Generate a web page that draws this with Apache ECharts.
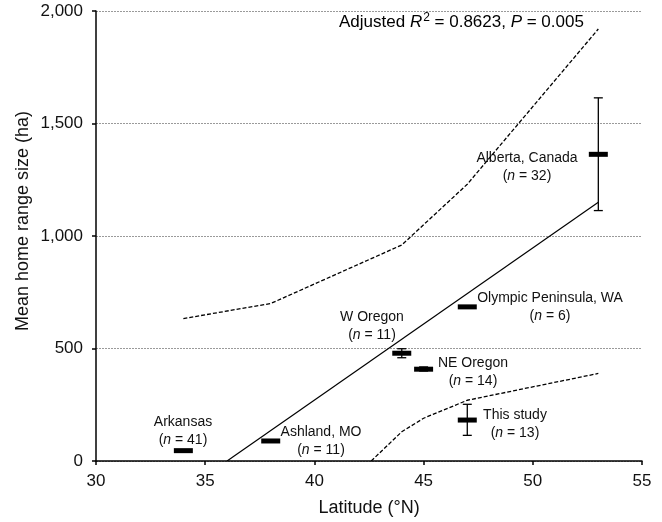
<!DOCTYPE html>
<html>
<head>
<meta charset="utf-8">
<script src="https://cdn.jsdelivr.net/npm/echarts@6/dist/echarts.min.js"></script>
<style>
  html, body { margin: 0; padding: 0; background: #fff; }
  #myChart { width: 662px; height: 522px; }
</style>
</head>
<body>
<div id="myChart"></div>
<script>
// study sites: latitude, mean home range, SE bounds
var siteNames = ['Arkansas', 'Ashland, MO', 'W Oregon', 'NE Oregon', 'This study', 'Olympic Peninsula, WA', 'Alberta, Canada'];
var siteN = [41, 11, 11, 14, 13, 6, 32];
var siteLat = [34, 38, 44, 45, 47, 47, 53];
var siteMean = [46, 89, 479, 408, 182, 685, 1363];
var siteLow = [46, 89, 459, 400, 114, 685, 1113];
var siteHigh = [46, 89, 499, 418, 252, 685, 1614];

// regression fit and confidence limits
var fitLat = [36, 53];
var fitVal = [0, 1150];
var upperLat = [34, 38, 44, 45, 47, 53];
var upperVal = [633, 700, 960, 1050, 1230, 1920];
var lowerLat = [42.6, 44, 45, 47, 53];
var lowerVal = [0, 130, 190, 270, 389];

var xTicks = [30, 35, 40, 45, 50, 55];
var yTicks = [0, 500, 1000, 1500, 2000];

function pairs(xs, ys) {
    return xs.map(function (x, i) { return [x, ys[i]]; });
}

var siteData = siteLat.map(function (lat, i) {
    return [lat, siteMean[i], siteLow[i], siteHigh[i]];
});

var chart = echarts.init(document.getElementById('myChart'));

var font = 'Liberation Sans, Arial';
function nLabel(name, n, x, y) {
    return {
        type: 'text', x: x, y: y,
        style: {
            text: name + '\n{p|(}{i|n}{p| = ' + n + ')}',
            fontFamily: font, fontSize: 14, fill: '#111',
            align: 'center', lineHeight: 18,
            rich: {
                p: { fontFamily: font, fontSize: 14, fill: '#111' },
                i: { fontFamily: font, fontSize: 14, fontStyle: 'italic', fill: '#111' }
            }
        }
    };
}

chart.setOption({
    animation: false,
    grid: { left: 96, right: 20, top: 11, bottom: 60 },
    xAxis: {
        type: 'value', min: 30, max: 55, interval: 5,
        name: 'Latitude (°N)', nameLocation: 'middle', nameGap: 38,
        nameTextStyle: { fontFamily: font, fontSize: 18, color: '#111' },
        axisLine: { lineStyle: { color: '#000', width: 1.5 } },
        axisTick: { show: true, length: 4, lineStyle: { color: '#000', width: 1.5 } },
        axisLabel: {
            margin: 12, fontFamily: font, fontSize: 17, color: '#111',
            customValues: xTicks
        },
        splitLine: { show: false }
    },
    yAxis: {
        type: 'value', min: 0, max: 2000, interval: 500,
        axisLine: { show: true, lineStyle: { color: '#000', width: 1.5 } },
        axisTick: { show: true, length: 4, lineStyle: { color: '#000', width: 1.5 } },
        axisLabel: {
            margin: 13, fontFamily: font, fontSize: 17, color: '#111',
            formatter: function (v) { return v.toLocaleString('en-US'); }
        },
        splitLine: { show: true, lineStyle: { color: '#9a9a9a', width: 1.2, type: [2, 1] } }
    },
    series: [
        {
            type: 'line', data: pairs(fitLat, fitVal), symbol: 'none',
            lineStyle: { color: '#000', width: 1.2 }
        },
        {
            type: 'line', data: pairs(upperLat, upperVal), symbol: 'none',
            lineStyle: { color: '#000', width: 1.3, type: [4, 2] }
        },
        {
            type: 'line', data: pairs(lowerLat, lowerVal), symbol: 'none',
            lineStyle: { color: '#000', width: 1.3, type: [4, 2] }
        },
        {
            type: 'custom',
            data: siteData,
            encode: { x: 0, y: [1, 2, 3] },
            renderItem: function (params, api) {
                var mean = api.coord([api.value(0), api.value(1)]);
                var low = api.coord([api.value(0), api.value(2)]);
                var high = api.coord([api.value(0), api.value(3)]);
                var children = [];
                if (high[1] < low[1] - 1) {
                    var cap = 4.5;
                    var ls = { stroke: '#000', lineWidth: 1.3 };
                    children.push(
                        { type: 'line', shape: { x1: low[0], y1: low[1], x2: high[0], y2: high[1] }, style: ls },
                        { type: 'line', shape: { x1: low[0] - cap, y1: low[1], x2: low[0] + cap, y2: low[1] }, style: ls },
                        { type: 'line', shape: { x1: high[0] - cap, y1: high[1], x2: high[0] + cap, y2: high[1] }, style: ls }
                    );
                }
                children.push({
                    type: 'rect',
                    shape: { x: mean[0] - 9.5, y: mean[1] - 2.5, width: 19, height: 5 },
                    style: { fill: '#000' }
                });
                return { type: 'group', children: children };
            },
            z: 5
        }
    ],
    graphic: [
        {
            type: 'text', x: 23, y: 221, rotation: Math.PI / 2,
            style: {
                text: 'Mean home range size (ha)', fontFamily: font, fontSize: 18, fill: '#111',
                align: 'center', verticalAlign: 'middle'
            }
        },
        {
            type: 'text', left: 339, top: 12,
            style: {
                text: '{a|Adjusted }{i|R}{s|2}{a| = 0.8623, }{i|P}{a| = 0.005}',
                rich: {
                    a: { fontFamily: font, fontSize: 17, fill: '#000' },
                    i: { fontFamily: font, fontSize: 17, fontStyle: 'italic', fill: '#000' },
                    s: { fontFamily: font, fontSize: 12, fill: '#000', padding: [0, 0, 8, 1] }
                }
            }
        },
        nLabel('Arkansas', 41, 183, 413),
        nLabel('Ashland, MO', 11, 321, 423),
        nLabel('W Oregon', 11, 372, 308),
        nLabel('NE Oregon', 14, 473, 354),
        nLabel('This study', 13, 515, 406),
        nLabel('Olympic Peninsula, WA', 6, 550, 289),
        nLabel('Alberta, Canada', 32, 527, 149)
    ]
});
</script>
</body>
</html>
